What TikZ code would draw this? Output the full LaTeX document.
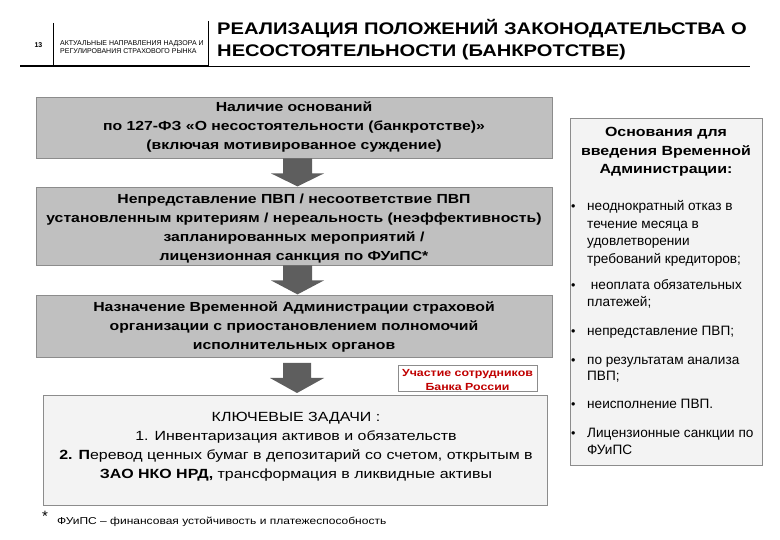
\documentclass[tikz,border=0pt]{standalone}
\usepackage{fontspec}
\setmainfont{Liberation Sans}
\newfontfamily\widefont{Liberation Sans}[FakeStretch=1.2]
\usetikzlibrary{calc}
\definecolor{boxgray}{HTML}{C0C0C0}
\definecolor{boxedge}{HTML}{8C8C8C}
\definecolor{arrowgray}{HTML}{5E5E5E}
\definecolor{lightfill}{HTML}{F3F3F3}
\definecolor{redtext}{HTML}{C00000}
\newcommand{\fsz}[2]{\fontsize{#1}{#2}\selectfont}
\tikzset{
  graybox/.style={draw=boxedge, line width=0.8pt, fill=boxgray, minimum width=516pt, inner sep=0pt},
  lightbox/.style={draw=boxedge, line width=0.8pt, fill=lightfill, inner sep=0pt},
  boxtext/.style={align=center, inner sep=0pt, anchor=base, font=\widefont\fsz{13.15}{19.3}\bfseries},
  righttext/.style={anchor=base west, inner sep=0pt, font=\fsz{13.6}{17.7}},
  bulletmark/.style={anchor=base west, inner sep=0pt, font=\fsz{12.5}{17.7}},
  flowarrow/.style={fill=arrowgray, draw=none},
}
\begin{document}
\begin{tikzpicture}[x=1pt,y=-1pt]
\useasboundingbox (0,0) rectangle (780,540);
% header
\node[anchor=base, inner sep=0pt, font=\fsz{7}{8}\bfseries] (pg) at (38.5,47.5) {13};
\node[anchor=base west, inner sep=0pt, font=\fsz{7}{8}] (hd1) at (60,45.5) {АКТУАЛЬНЫЕ НАПРАВЛЕНИЯ НАДЗОРА И};
\node[anchor=base west, inner sep=0pt, font=\fsz{7}{8}] (hd2) at (60,53.5) {РЕГУЛИРОВАНИЯ СТРАХОВОГО РЫНКА};
\coordinate (v1t) at (53,23); \coordinate (v1b) at (53,66);
\coordinate (v2t) at (208,21); \coordinate (v2b) at (208,66);
\coordinate (hl) at (20,66); \coordinate (hr) at (750,66);
\draw[line width=0.8pt] (v1t) -- (v1b);
\draw[line width=0.8pt] (v2t) -- (v2b);
\draw[line width=1.8pt] (hl) -- (v2b);
\draw[line width=0.8pt] (v2b) -- (hr);
\node[anchor=base west, inner sep=0pt, font=\widefont\fsz{16.8}{22}\bfseries] (t1) at (217,35) {РЕАЛИЗАЦИЯ ПОЛОЖЕНИЙ ЗАКОНОДАТЕЛЬСТВА О};
\node[anchor=base west, inner sep=0pt, font=\widefont\fsz{16.8}{22}\bfseries] (t2) at (217,57) {НЕСОСТОЯТЕЛЬНОСТИ (БАНКРОТСТВЕ)};

% main boxes
\node[graybox, minimum height=61pt] (b1) at (294,127.5) {};
\node[boxtext] (b1t) at (294,150) {Наличие оснований\\по 127-ФЗ «О несостоятельности (банкротстве)»\\(включая мотивированное суждение)};
\node[graybox, minimum height=78pt] (b2) at (294,226) {};
\node[boxtext] (b2t) at (294,261) {Непредставление ПВП / несоответствие ПВП\\установленным критериям / нереальность (неэффективность)\\запланированных мероприятий /\\лицензионная санкция по ФУиПС*};
\node[graybox, minimum height=62pt] (b3) at (294,326) {};
\node[boxtext] (b3t) at (294,350) {Назначение Временной Администрации страховой\\организации с приостановлением полномочий\\исполнительных органов};
\node[lightbox, minimum width=504pt, minimum height=110pt] (b4) at (295,450) {};
\node[align=center, inner sep=0pt, anchor=base, font=\widefont\fsz{13.3}{18.8}] (b4t) at (296,478) {КЛЮЧЕВЫЕ ЗАДАЧИ :\\1. Инвентаризация активов и обязательств\\\textbf{2. П}еревод ценных бумаг в депозитарий со счетом, открытым в\\\textbf{ЗАО НКО НРД,} трансформация в ликвидные активы};

% red note
\node[draw=boxedge, line width=0.7pt, fill=white, minimum width=139pt, minimum height=26pt, inner sep=0pt] (note) at (467.5,378) {};
\node[align=center, inner sep=0pt, anchor=base, font=\widefont\fsz{10.3}{14}\bfseries, text=redtext] (notet) at (467.5,390.5) {Участие сотрудников\\Банка России};

% arrows
\coordinate (a1) at (b1.south -| 283,0);
\coordinate (a2) at (b2.south -| 283,0);
\coordinate (a3) at (283,363);
\fill[flowarrow] (a1) -- ++(0,15) -- ++(-12,0) -- ++(26.5,13) -- ++(26.5,-13) -- ++(-12,0) -- ++(0,-15) -- cycle;
\fill[flowarrow] (a2) -- ++(0,15) -- ++(-12,0) -- ++(26.5,14) -- ++(26.5,-14) -- ++(-12,0) -- ++(0,-15) -- cycle;
\fill[flowarrow] (a3) -- ++(0,15) -- ++(-13,0) -- ++(27,15) -- ++(27,-15) -- ++(-13,0) -- ++(0,-15) -- cycle;

% footnote
\node[anchor=base, inner sep=0pt, font=\fsz{15}{16}] (star) at (45,521) {*};
\node[anchor=base west, inner sep=0pt, font=\widefont\fsz{10}{12}] (fn) at (57,524) {ФУиПС – финансовая устойчивость и платежеспособность};

% right box
\node[lightbox, minimum width=192pt, minimum height=347pt] (rb) at (666,291.5) {};
\node[align=center, inner sep=0pt, anchor=base, font=\widefont\fsz{13.3}{18.5}\bfseries] (rh) at (666,174) {Основания для\\введения Временной\\Администрации:};
\foreach \y/\name in {211/p1,290/p2,336/p3,364/p4,409/p5,437/p6}{
  \node[bulletmark] (\name) at (571,\y) {•};
}
\node[righttext] (r1) at (587,211) {неоднократный отказ в};
\node[righttext] (r2) at (587,228.5) {течение месяца в};
\node[righttext] (r3) at (587,246) {удовлетворении};
\node[righttext] (r4) at (587,264) {требований кредиторов;};
\node[righttext] (r5) at (587,290) {\ неоплата обязательных};
\node[righttext] (r6) at (587,307) {платежей;};
\node[righttext] (r7) at (587,336) {непредставление ПВП;};
\node[righttext] (r8) at (587,364) {по результатам анализа};
\node[righttext] (r9) at (587,381) {ПВП;};
\node[righttext] (r10) at (587,409) {неисполнение ПВП.};
\node[righttext] (r11) at (587,437) {Лицензионные санкции по};
\node[righttext] (r12) at (587,454) {ФУиПС};
\end{tikzpicture}
\end{document}
